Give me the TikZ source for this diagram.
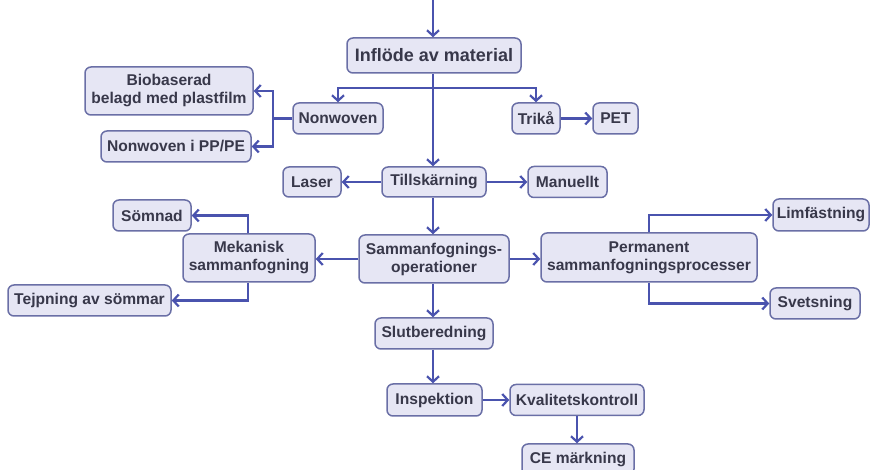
\documentclass[tikz,border=0pt]{standalone}
\usepackage{fontspec}
\setmainfont{Liberation Sans}
\usetikzlibrary{arrows.meta}
\definecolor{boxc}{HTML}{6A6FA6}
\definecolor{fillc}{HTML}{E6E6F4}
\definecolor{arrc}{HTML}{4A53AE}
\definecolor{txtc}{HTML}{38384A}
\tikzset{
  box/.style={draw=boxc, fill=fillc, rounded corners=6pt, line width=1.5pt,
    text=txtc, inner sep=0pt, minimum height=31pt, align=center,
    font=\bfseries\fontsize{15.6}{18}\selectfont},
  bigbox/.style={box, font=\bfseries\fontsize{18}{20}\selectfont},
  conn/.style={draw=arrc, line width=2.3pt},
  arr/.style={conn, -{Straight Barb[length=5.5pt,width=12pt,line width=2.2pt]}},
}
\begin{document}
\begin{tikzpicture}[x=1pt,y=-1pt]
\useasboundingbox (0,0) rectangle (871,470);
\node[bigbox, minimum width=174pt, minimum height=35pt] (inflode) at (434,55.5) {Inflöde av material};
\node[box, minimum width=90pt] (nonwoven) at (338,118.5) {Nonwoven};
\node[box, minimum width=48pt] (trika) at (536,118.5) {Trikå};
\node[box, minimum width=45pt] (pet) at (615.5,118.5) {PET};
\node[box, minimum width=168pt, minimum height=48pt] (bio) at (169,91) {Biobaserad\\belagd med plastfilm};
\node[box, minimum width=150pt] (nonpp) at (176,146.5) {Nonwoven i PP/PE};
\node[box, minimum width=104pt, minimum height=30pt] (tills) at (434,182) {Tillskärning};
\node[box, minimum width=58pt, minimum height=30pt] (laser) at (312,182) {Laser};
\node[box, minimum width=79pt] (manuellt) at (567.5,182) {Manuellt};
\node[box, minimum width=150pt, minimum height=48pt] (samm) at (434,259) {Sammanfognings-\\operationer};
\node[box, minimum width=132pt, minimum height=48pt] (mek) at (249,258) {Mekanisk\\sammanfogning};
\node[box, minimum width=78pt] (somnad) at (152,215.5) {Sömnad};
\node[box, minimum width=163pt] (tejp) at (89.5,300.5) {Tejpning av sömmar};
\node[box, minimum width=216pt, minimum height=49pt] (perm) at (649,257.5) {Permanent\\sammanfogningsprocesser};
\node[box, minimum width=96pt, minimum height=32pt] (limf) at (821,215) {Limfästning};
\node[box, minimum width=90pt] (svets) at (815,303.5) {Svetsning};
\node[box, minimum width=118pt] (slut) at (434,333.5) {Slutberedning};
\node[box, minimum width=95pt, minimum height=32pt] (insp) at (434.5,400) {Inspektion};
\node[box, minimum width=134pt] (kval) at (577,400) {Kvalitetskontroll};
\node[box, minimum width=112pt] (ce) at (578,459.5) {CE märkning};
\coordinate (top) at (433,0);
\coordinate (br) at (433,88);
\coordinate (nj) at (273,118.5);
% connectors
\draw[arr] (top) -- (inflode.north -| top);
\draw[arr] (inflode.south -| top) -- (tills.north -| top);
\draw[arr] (br) -| (nonwoven.north);
\draw[arr] (br) -| (trika.north);
\draw[arr] (trika.east) -- (pet.west |- trika.east);
\draw[conn] (nonwoven.west) -- (nj);
\draw[arr] (nj) |- (bio.east);
\draw[arr] (nj) |- (nonpp.east);
\draw[arr] (tills.west) -- (laser.east |- tills.west);
\draw[arr] (tills.east) -- (manuellt.west |- tills.east);
\draw[arr] (tills.south -| top) -- (samm.north -| top);
\draw[arr] (samm.west) -- (mek.east |- samm.west);
\draw[arr] (samm.east) -- (perm.west |- samm.east);
\draw[arr] ([xshift=-1pt]mek.north) |- (somnad.east);
\draw[arr] ([xshift=-1pt]mek.south) |- (tejp.east);
\draw[arr] (perm.north) |- (limf.west);
\draw[arr] (perm.south) |- (svets.west);
\draw[arr] (samm.south -| top) -- (slut.north -| top);
\draw[arr] (slut.south -| top) -- (insp.north -| top);
\draw[arr] (insp.east) -- (kval.west |- insp.east);
\draw[arr] (kval.south) -- (ce.north -| kval.south);
\end{tikzpicture}
\end{document}
